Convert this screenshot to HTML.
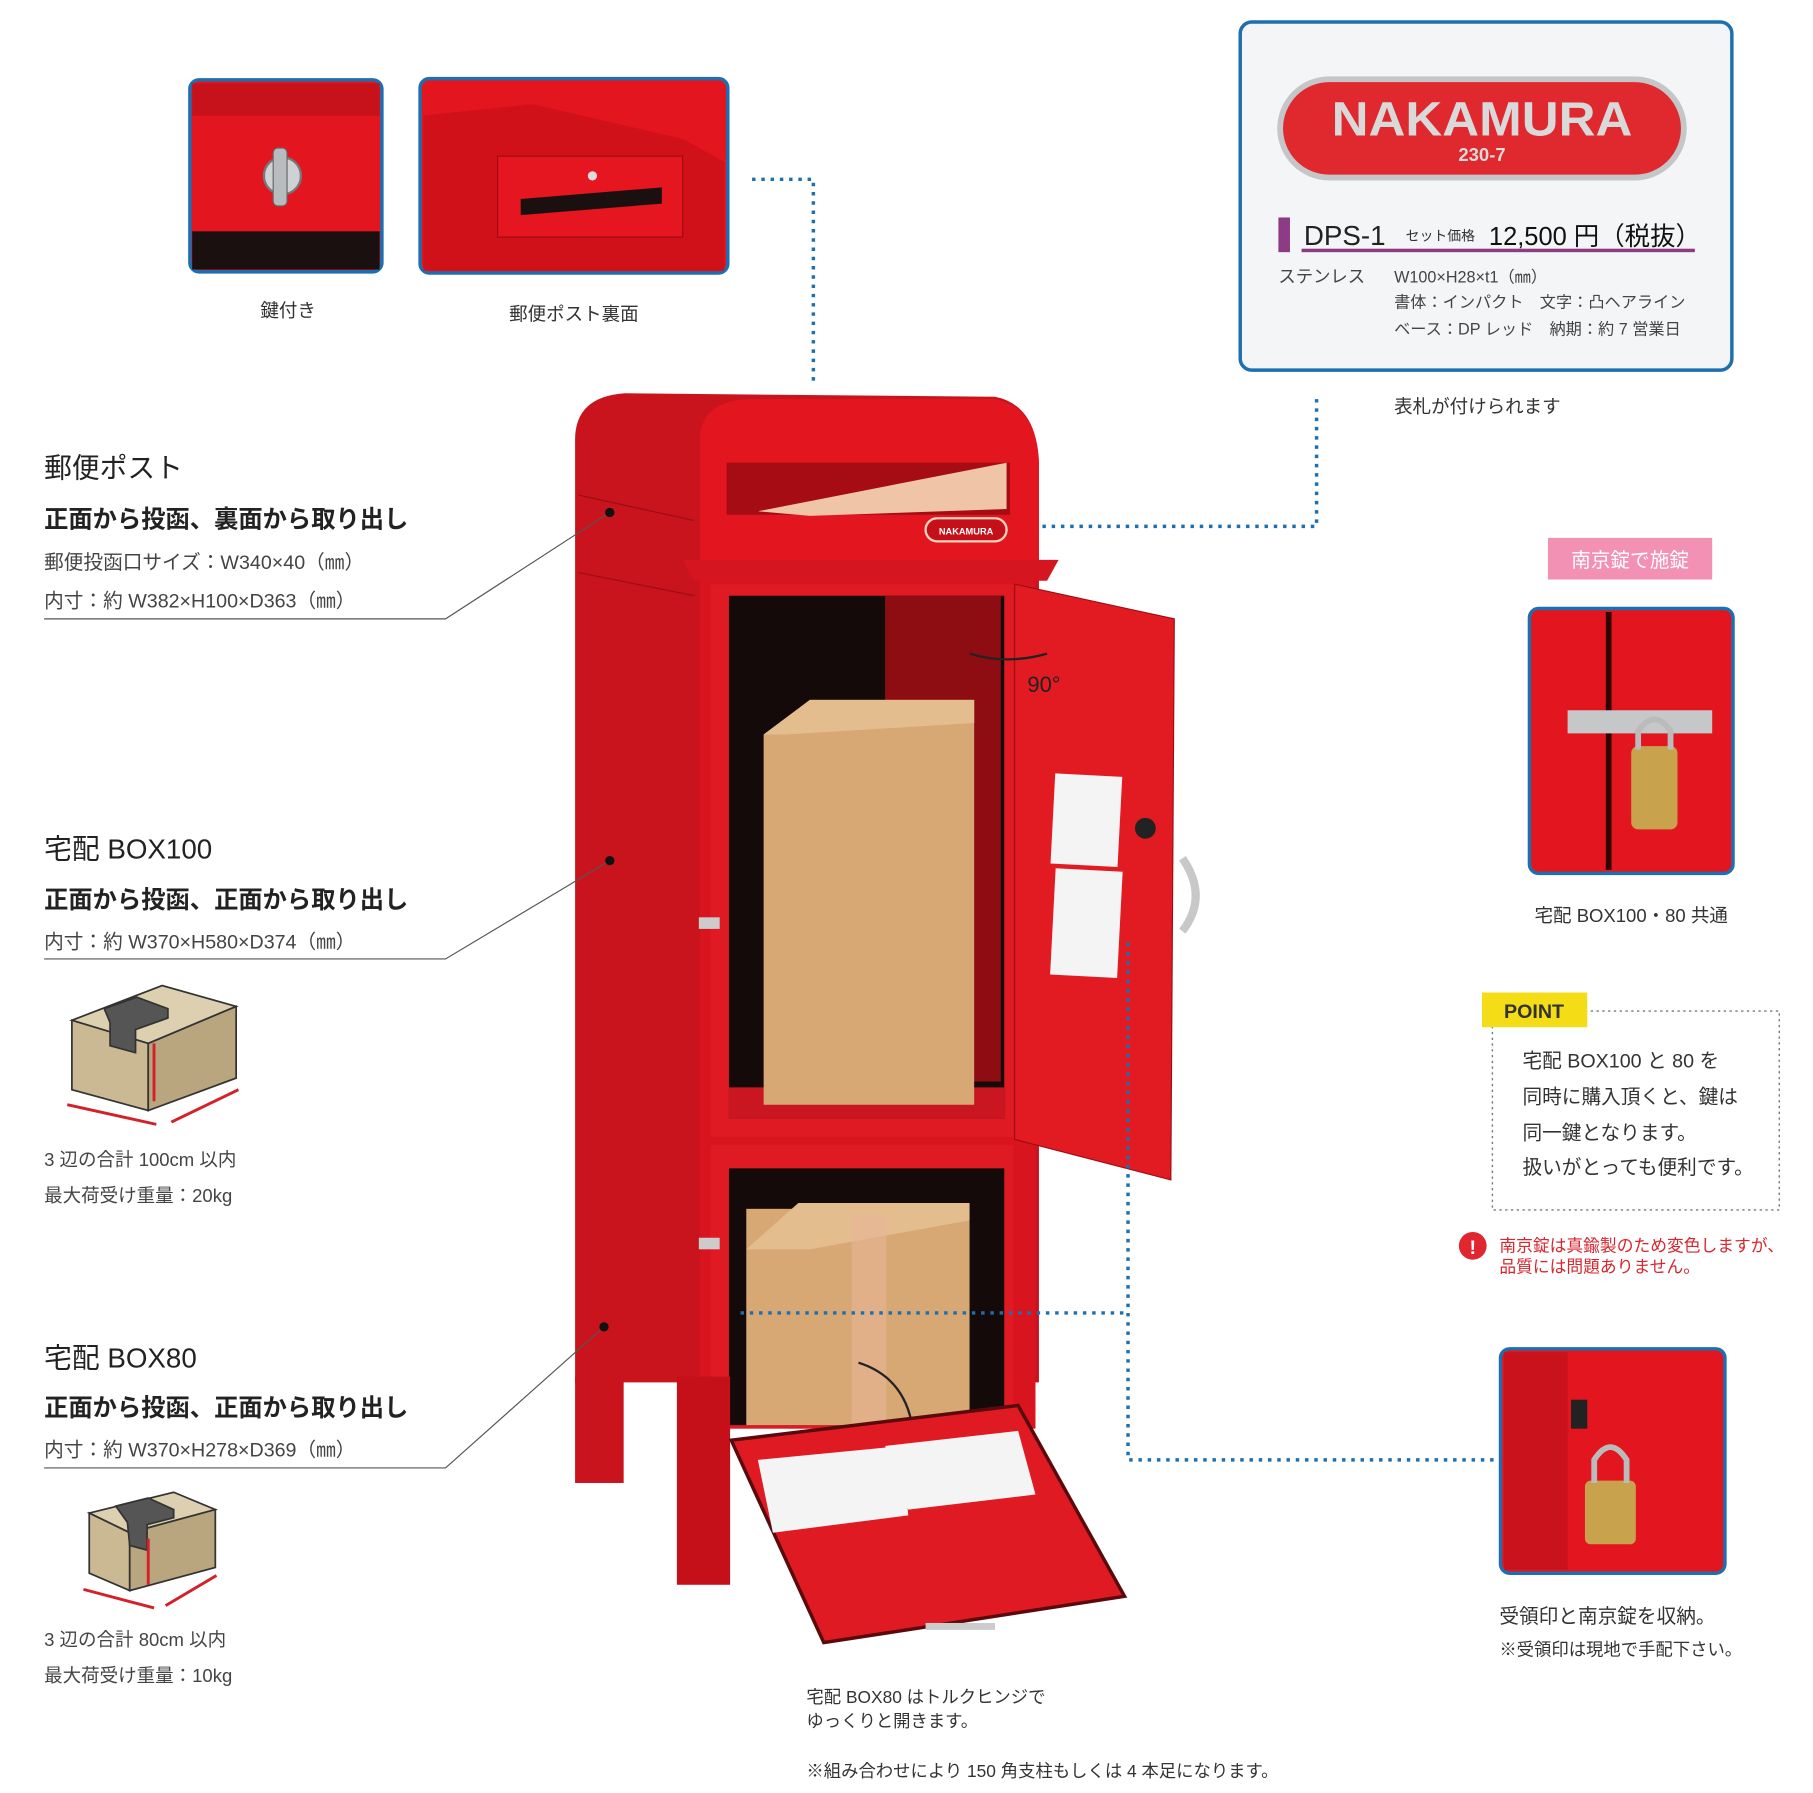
<!DOCTYPE html>
<html><head><meta charset="utf-8"><style>
html,body{margin:0;padding:0;background:#fff;}
svg{display:block;}
text{font-family:"Liberation Sans","Noto Sans CJK JP",sans-serif;}
</style></head><body>
<svg width="1813" height="1793" viewBox="0 0 1567 1550" xmlns="http://www.w3.org/2000/svg">
<rect width="1567" height="1550" fill="#fff"/>

<!-- thumbnails -->
<rect x="164" y="69" width="166" height="166" rx="8" fill="#e3151e" stroke="#1e6fb0" stroke-width="3"/>
<rect x="166" y="200" width="162" height="33" fill="#1a1010"/>
<rect x="166" y="72" width="162" height="28" fill="#c8121b"/>
<circle cx="244" cy="152" r="16" fill="#cfd2d4" stroke="#777" stroke-width="2"/>
<rect x="236" y="128" width="12" height="50" rx="4" fill="#b9bcbf" stroke="#666"/>
<text x="249" y="274" font-size="16" text-anchor="middle" fill="#333">鍵付き</text>

<rect x="363" y="68" width="266" height="168" rx="8" fill="#e3151e" stroke="#1e6fb0" stroke-width="3"/>
<polygon points="366,100 460,90 590,120 626,140 626,234 366,234" fill="#d0111a"/>
<rect x="430" y="135" width="160" height="70" fill="#e5161f" stroke="#9b0c12"/>
<polygon points="450,172 572,162 572,176 450,186" fill="#1a1010"/>
<circle cx="512" cy="152" r="4" fill="#ddd"/>
<text x="496" y="277" font-size="16" text-anchor="middle" fill="#333">郵便ポスト裏面</text>

<path d="M650,155 H703 V330" fill="none" stroke="#1f6fae" stroke-width="3" stroke-dasharray="3,5"/>

<!-- nameplate box -->
<rect x="1072" y="19" width="425" height="301" rx="10" fill="#f3f5f6" stroke="#1e6fb0" stroke-width="3"/>
<rect x="1104" y="66" width="354" height="90" rx="45" fill="#c4c6c8"/>
<rect x="1109" y="71" width="344" height="80" rx="40" fill="#e0282f"/>
<text x="1281" y="117" font-size="42" font-weight="bold" text-anchor="middle" fill="#d9d9d9" textLength="260" lengthAdjust="spacingAndGlyphs">NAKAMURA</text>
<text x="1281" y="139" font-size="16" font-weight="bold" text-anchor="middle" fill="#d9d9d9">230-7</text>
<rect x="1105" y="188" width="10" height="30" fill="#8e3b85"/>
<text x="1127" y="212" font-size="24" fill="#222">DPS-1</text>
<text x="1215" y="208" font-size="12" fill="#333">セット価格</text>
<text x="1287" y="212" font-size="22" fill="#111">12,500 円（税抜）</text>
<rect x="1125" y="215" width="340" height="3" fill="#8e3b85"/>
<text x="1105" y="244" font-size="15" fill="#444">ステンレス</text>
<text x="1205" y="244" font-size="14" fill="#444">W100×H28×t1（㎜）</text>
<text x="1205" y="266" font-size="14" fill="#444">書体：インパクト　文字：凸ヘアライン</text>
<text x="1205" y="289" font-size="14" fill="#444">ベース：DP レッド　納期：約 7 営業日</text>
<text x="1205" y="357" font-size="16" fill="#333">表札が付けられます</text>
<path d="M1138,345 V455 H885" fill="none" stroke="#1f6fae" stroke-width="3" stroke-dasharray="3,5"/>

<!-- left text -->
<g fill="#222">
<text x="38" y="413" font-size="24">郵便ポスト</text>
<text x="38" y="456" font-size="21" font-weight="bold">正面から投函、裏面から取り出し</text>
<text x="38" y="492" font-size="17" fill="#444">郵便投函口サイズ：W340×40（㎜）</text>
<text x="38" y="525" font-size="17" fill="#444">内寸：約 W382×H100×D363（㎜）</text>
<text x="38" y="742" font-size="24">宅配 BOX100</text>
<text x="38" y="785" font-size="21" font-weight="bold">正面から投函、正面から取り出し</text>
<text x="38" y="820" font-size="17" fill="#444">内寸：約 W370×H580×D374（㎜）</text>
<text x="38" y="1008" font-size="16" fill="#444">3 辺の合計 100cm 以内</text>
<text x="38" y="1039" font-size="16" fill="#444">最大荷受け重量：20kg</text>
<text x="38" y="1182" font-size="24">宅配 BOX80</text>
<text x="38" y="1224" font-size="21" font-weight="bold">正面から投函、正面から取り出し</text>
<text x="38" y="1259" font-size="17" fill="#444">内寸：約 W370×H278×D369（㎜）</text>
<text x="38" y="1423" font-size="16" fill="#444">3 辺の合計 80cm 以内</text>
<text x="38" y="1454" font-size="16" fill="#444">最大荷受け重量：10kg</text>
</g>

<!-- box icons -->
<g stroke="#333" stroke-width="1.5">
<polygon points="62,882 140,852 204,870 128,902" fill="#ddd0b0"/>
<polygon points="62,882 128,902 128,960 62,942" fill="#cbb994"/>
<polygon points="128,902 204,870 204,932 128,960" fill="#b9a57e"/>
<polygon points="90,872 118,862 145,872 145,880 117,890 117,910 95,904 95,884" fill="#555"/>
<polygon points="77,1308 150,1290 186,1305 112,1325" fill="#ddd0b0"/>
<polygon points="77,1308 112,1325 112,1375 77,1360" fill="#cbb994"/>
<polygon points="112,1325 186,1305 186,1355 112,1375" fill="#b9a57e"/>
<polygon points="100,1302 128,1295 150,1305 150,1312 127,1318 127,1340 112,1336 110,1316" fill="#555"/>
</g>
<g stroke="#d42028" stroke-width="2.5" fill="#d42028">
<line x1="133" y1="902" x2="133" y2="952"/>
<line x1="58" y1="955" x2="135" y2="972"/>
<line x1="148" y1="970" x2="206" y2="942"/>
<line x1="128" y1="1330" x2="128" y2="1370"/>
<line x1="72" y1="1374" x2="133" y2="1390"/>
<line x1="143" y1="1388" x2="187" y2="1362"/>
</g>

<!-- post -->
<path d="M497,1195 L497,380 Q497,343 540,340 L860,343 Q896,350 898,400 L898,1195 Z" fill="#c9141d"/>
<path d="M605,375 Q610,345 650,345 L860,345 Q896,352 898,400 L898,490 L605,490 Z" fill="#e3161f"/>
<line x1="500" y1="428" x2="600" y2="450" stroke="#9a0d12" stroke-width="1"/>
<line x1="500" y1="495" x2="600" y2="515" stroke="#9a0d12" stroke-width="1"/>
<rect x="628" y="400" width="245" height="45" fill="#a50c13"/>
<polygon points="655,442 870,400 870,440 700,446" fill="#f0c4a6"/>
<rect x="800" y="448" width="70" height="20" rx="10" fill="#c61019" stroke="#f2d4c0" stroke-width="2"/>
<text x="835" y="462" font-size="8" fill="#fff" text-anchor="middle" font-weight="bold">NAKAMURA</text>
<polygon points="590,484 915,484 905,502 600,502" fill="#d51520"/>
<rect x="605" y="500" width="290" height="735" fill="#d8141e"/>
<rect x="614" y="505" width="262" height="478" fill="#e01a22"/>
<rect x="630" y="515" width="238" height="452" fill="#140a0a"/>
<rect x="765" y="515" width="100" height="420" fill="#8e0d12"/>
<rect x="630" y="940" width="238" height="27" fill="#c91620"/>
<polygon points="660,635 700,605 842,605 842,955 660,955" fill="#d7a774"/>
<polygon points="660,635 700,605 842,605 842,625 680,635" fill="#e4bd8f"/>
<polygon points="877,505 1015,535 1012,1020 877,985" fill="#e21b23" stroke="#9c0d12"/>
<rect x="910" y="670" width="58" height="78" fill="#f4f4f4" transform="rotate(3 939 709)"/>
<rect x="910" y="752" width="58" height="92" fill="#f4f4f4" transform="rotate(3 939 798)"/>
<circle cx="990" cy="716" r="9" fill="#222"/>
<path d="M1022,742 Q1045,775 1022,805" fill="none" stroke="#c8c8c8" stroke-width="7"/>
<path d="M838,565 Q870,575 905,565" fill="none" stroke="#222" stroke-width="2"/>
<text x="888" y="598" font-size="19" fill="#222">90°</text>
<rect x="614" y="990" width="262" height="245" fill="#e01a22"/>
<rect x="630" y="1010" width="238" height="222" fill="#140a0a"/>
<rect x="645" y="1045" width="193" height="187" fill="#d7a774"/>
<polygon points="645,1080 690,1040 838,1040 838,1055 700,1080" fill="#e4bd8f"/>
<rect x="736" y="1050" width="30" height="182" fill="#e8b697" opacity="0.6"/>
<path d="M742,1178 Q780,1190 788,1230" fill="none" stroke="#222" stroke-width="2"/>
<rect x="604" y="793" width="18" height="10" fill="#ccc"/>
<rect x="604" y="1070" width="18" height="10" fill="#ccc"/>
<rect x="497" y="1190" width="42" height="92" fill="#c9141d"/>
<rect x="585" y="1190" width="46" height="180" fill="#c51019"/>
<polygon points="632,1245 880,1215 972,1380 712,1420" fill="#e01a22" stroke="#5a0a0c" stroke-width="3"/>
<polygon points="655,1262 780,1250 785,1310 668,1325" fill="#f4f4f4"/>
<polygon points="765,1250 880,1237 895,1292 785,1305" fill="#f4f4f4"/>
<rect x="800" y="1403" width="60" height="6" fill="#ccc"/>

<!-- leader lines with dots -->
<g fill="none" stroke="#555" stroke-width="1">
<path d="M38,535 H385 L527,443"/>
<path d="M38,829 H385 L527,744"/>
<path d="M38,1269 H385 L522,1147"/>
</g>
<circle cx="527" cy="443" r="4" fill="#111"/>
<circle cx="527" cy="744" r="4" fill="#111"/>
<circle cx="522" cy="1147" r="4" fill="#111"/>

<!-- dotted right connectors -->
<g fill="none" stroke="#1f6fae" stroke-width="3" stroke-dasharray="3,5">
<path d="M640,1135 H975"/>
<path d="M975,815 V1262 H1296"/>
</g>

<!-- right side -->
<rect x="1338" y="465" width="142" height="36" fill="#f291b3"/>
<text x="1409" y="490" font-size="17" fill="#fff" text-anchor="middle">南京錠で施錠</text>
<rect x="1322" y="526" width="176" height="229" rx="8" fill="#e3151e" stroke="#1e6fb0" stroke-width="3"/>
<rect x="1388" y="529" width="5" height="223" fill="#300"/>
<rect x="1355" y="614" width="125" height="20" fill="#c5c7c9"/>
<rect x="1410" y="645" width="40" height="72" rx="6" fill="#c9a24e"/>
<path d="M1416,648 V632 Q1430,612 1444,632 V648" fill="none" stroke="#bbb" stroke-width="5"/>
<text x="1410" y="797" font-size="16" fill="#333" text-anchor="middle">宅配 BOX100・80 共通</text>

<rect x="1290" y="874" width="248" height="172" fill="none" stroke="#777" stroke-width="1.2" stroke-dasharray="2,3"/>
<rect x="1281" y="858" width="91" height="30" fill="#f4dd17"/>
<text x="1326" y="880" font-size="17" font-weight="bold" fill="#333" text-anchor="middle" font-family="Liberation Serif,serif">POINT</text>
<g font-size="17" fill="#333">
<text x="1316" y="923">宅配 BOX100 と 80 を</text>
<text x="1316" y="954">同時に購入頂くと、鍵は</text>
<text x="1316" y="985">同一鍵となります。</text>
<text x="1316" y="1015">扱いがとっても便利です。</text>
</g>
<circle cx="1273" cy="1077" r="12" fill="#e0272f"/>
<text x="1273" y="1084" font-size="17" font-weight="bold" fill="#fff" text-anchor="middle">!</text>
<text x="1296" y="1082" font-size="14.5" fill="#d8262e">南京錠は真鍮製のため変色しますが、</text>
<text x="1296" y="1100" font-size="14.5" fill="#d8262e">品質には問題ありません。</text>

<rect x="1297" y="1166" width="194" height="194" rx="8" fill="#e3151e" stroke="#1e6fb0" stroke-width="3"/>
<rect x="1300" y="1169" width="55" height="188" fill="#c9121b"/>
<rect x="1358" y="1210" width="14" height="25" fill="#222"/>
<rect x="1370" y="1280" width="44" height="55" rx="5" fill="#c9a24e"/>
<path d="M1378,1282 V1262 Q1392,1240 1406,1262 V1282" fill="none" stroke="#bbb" stroke-width="5"/>
<text x="1296" y="1403" font-size="17" fill="#333">受領印と南京錠を収納。</text>
<text x="1296" y="1431" font-size="15" fill="#333">※受領印は現地で手配下さい。</text>

<text x="697" y="1472" font-size="15" fill="#333">宅配 BOX80 はトルクヒンジで</text>
<text x="697" y="1493" font-size="15" fill="#333">ゆっくりと開きます。</text>
<text x="697" y="1536" font-size="15" fill="#333">※組み合わせにより 150 角支柱もしくは 4 本足になります。</text>
</svg>
</body></html>
